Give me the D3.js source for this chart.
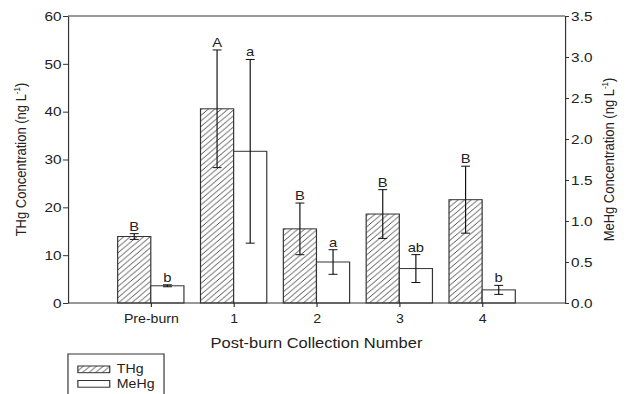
<!DOCTYPE html>
<html>
<head>
<meta charset="utf-8">
<script src="https://cdn.jsdelivr.net/npm/d3@7"></script>
<style>
  body { margin: 0; background: #fff; }
  text { font-family: "Liberation Sans", Arial, sans-serif; fill: #222; }
</style>
</head>
<body>
<svg id="chart" width="629" height="394"></svg>
<script>
var categories = ["Pre-burn", "1", "2", "3", "4"];
var thg = [13.9, 40.6, 15.5, 18.6, 21.6];
var thgErr = [0.6, 12.3, 5.4, 5.1, 7.0];
var thgLetters = ["B", "A", "B", "B", "B"];
var mehg = [0.21, 1.85, 0.50, 0.42, 0.16];
var mehgErr = [0.012, 1.12, 0.15, 0.17, 0.055];
var mehgLetters = ["b", "a", "a", "ab", "b"];
var leftTicks = [0, 10, 20, 30, 40, 50, 60];
var rightTicks = [0, 0.5, 1.0, 1.5, 2.0, 2.5, 3.0, 3.5];

// the source picture is a bit wider than tall, so draw in a narrower box and stretch it
var sx = 1.18, W = 629 / sx, H = 394;
var svg = d3.select("#chart")
  .attr("viewBox", "0 0 " + W + " " + H)
  .attr("preserveAspectRatio", "none");

// note: "top" is a window global, so don't use it as a name here
var pLeft = 57.6, pRight = 478.8, pTop = 16, pBottom = 303;
var ink = "#333";

var x = d3.scaleLinear().domain([0, 6]).range([pLeft, pRight]);
var yL = d3.scaleLinear().domain([0, 60]).range([pBottom, pTop]);
var yR = d3.scaleLinear().domain([0, 3.5]).range([pBottom, pTop]);
var bw = 0.4;

var pat = svg.append("defs").append("pattern")
  .attr("id", "hatch")
  .attr("patternUnits", "userSpaceOnUse")
  .attr("width", 5.6).attr("height", 5.6);
pat.append("rect").attr("width", 5.6).attr("height", 5.6).attr("fill", "#fff");
pat.append("path")
  .attr("d", "M-1.4,1.4 L1.4,-1.4 M0,5.6 L5.6,0 M4.2,7 L7,4.2")
  .attr("stroke", ink).attr("stroke-width", 0.8);

// bars
svg.selectAll(".thg").data(thg).enter().append("rect")
  .attr("class", "thg")
  .attr("x", (d, i) => x(i + 1 - bw))
  .attr("y", d => yL(d))
  .attr("width", x(bw) - x(0))
  .attr("height", d => pBottom - yL(d))
  .attr("fill", "url(#hatch)").attr("stroke", ink).attr("stroke-width", 1);

svg.selectAll(".mehg").data(mehg).enter().append("rect")
  .attr("class", "mehg")
  .attr("x", (d, i) => x(i + 1))
  .attr("y", d => yR(d))
  .attr("width", x(bw) - x(0))
  .attr("height", d => pBottom - yR(d))
  .attr("fill", "#fff").attr("stroke", ink).attr("stroke-width", 1);

// error bars and letters
function errors(vals, errs, letters, y, off) {
  var cap = 3.8;
  vals.forEach(function(v, i) {
    var cx = x(i + 1 + off), hi = y(v + errs[i]), lo = y(v - errs[i]);
    var g = svg.append("g").attr("stroke", "#111").attr("stroke-width", 1);
    g.append("line").attr("x1", cx).attr("x2", cx).attr("y1", hi).attr("y2", lo);
    g.append("line").attr("x1", cx - cap).attr("x2", cx + cap).attr("y1", hi).attr("y2", hi);
    g.append("line").attr("x1", cx - cap).attr("x2", cx + cap).attr("y1", lo).attr("y2", lo);
    svg.append("text").attr("x", cx).attr("y", hi - 3)
      .attr("text-anchor", "middle").attr("font-size", 12.5).text(letters[i]);
  });
}
errors(thg, thgErr, thgLetters, yL, -bw / 2);
errors(mehg, mehgErr, mehgLetters, yR, bw / 2);

// frame top
svg.append("line").attr("x1", pLeft).attr("x2", pRight).attr("y1", pTop).attr("y2", pTop)
  .attr("stroke", ink);

var ax = svg.append("g").attr("transform", "translate(" + pLeft + ",0)")
  .call(d3.axisLeft(yL).tickValues(leftTicks).tickSize(4.2).tickPadding(1.2).tickSizeOuter(0));
var axR = svg.append("g").attr("transform", "translate(" + pRight + ",0)")
  .call(d3.axisRight(yR).tickValues(rightTicks).tickFormat(d3.format(".1f"))
    .tickSize(3.4).tickPadding(1.8).tickSizeOuter(0));
var axX = svg.append("g").attr("transform", "translate(0," + pBottom + ")")
  .call(d3.axisBottom(x).tickValues([1, 2, 3, 4, 5]).tickFormat((d, i) => categories[i])
    .tickSize(4).tickPadding(7).tickSizeOuter(0));
axX.select(".domain").attr("d", "M" + pLeft + ",0H" + pRight);

[ax, axR, axX].forEach(function(a) {
  a.selectAll("path, line").attr("stroke", ink);
  a.selectAll("text").attr("font-size", 12).attr("fill", "#222")
    .style("font-family", "'Liberation Sans', Arial, sans-serif");
});
ax.selectAll("text").attr("font-size", 13);
axR.selectAll("text").attr("font-size", 13);

// axis titles
var tl = svg.append("text")
  .attr("transform", "translate(22," + (pTop + pBottom) / 2 + ") rotate(-90)")
  .attr("text-anchor", "middle").attr("font-size", 13);
tl.append("tspan").text("THg Concentration (ng L");
tl.append("tspan").attr("font-size", 8).attr("dy", -5).text("-1");
tl.append("tspan").attr("dy", 5).text(")");

var tr = svg.append("text")
  .attr("transform", "translate(520," + (pTop + pBottom) / 2 + ") rotate(-90)")
  .attr("text-anchor", "middle").attr("font-size", 13);
tr.append("tspan").text("MeHg Concentration (ng L");
tr.append("tspan").attr("font-size", 8).attr("dy", -5).text("-1");
tr.append("tspan").attr("dy", 5).text(")");

svg.append("text").attr("x", (pLeft + pRight) / 2).attr("y", 348)
  .attr("text-anchor", "middle").attr("font-size", 14)
  .text("Post-burn Collection Number");

// legend
var lg = svg.append("g");
lg.append("rect").attr("x", 57.6).attr("y", 354).attr("width", 81.4).attr("height", 60)
  .attr("fill", "#fff").attr("stroke", ink);
var items = [{name: "THg", fill: "url(#hatch)"}, {name: "MeHg", fill: "#fff"}];
items.forEach(function(it, i) {
  var yy = 366 + i * 14.5;
  lg.append("rect").attr("x", 66).attr("y", yy).attr("width", 27).attr("height", 6.7)
    .attr("fill", it.fill).attr("stroke", ink);
  lg.append("text").attr("x", 99).attr("y", yy + 7.5).attr("font-size", 12).text(it.name);
});
</script>
</body>
</html>
